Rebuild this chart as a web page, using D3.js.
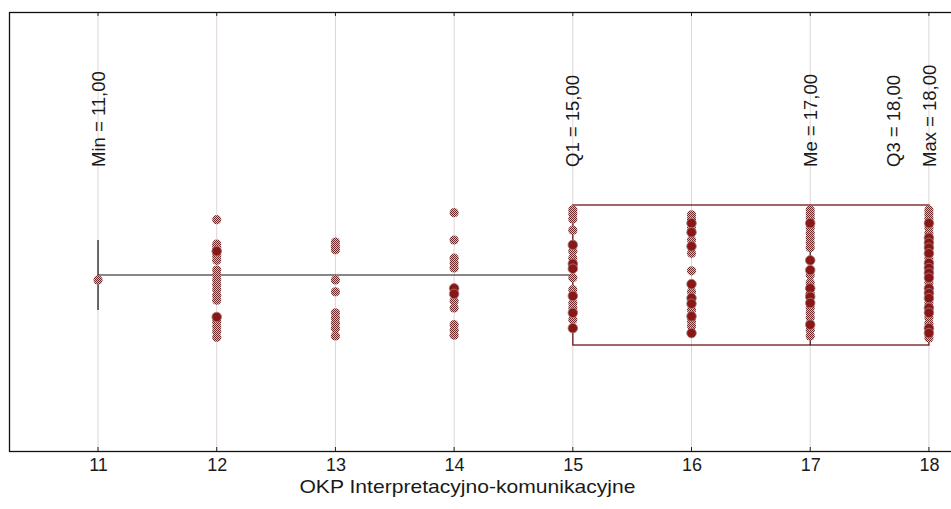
<!DOCTYPE html>
<html>
<head>
<meta charset="utf-8">
<script src="https://cdn.jsdelivr.net/npm/d3@7/dist/d3.min.js"></script>
<style>
  html, body { margin: 0; padding: 0; background: #fff; }
  svg { display: block; }
  text { font-family: "Liberation Sans", Arial, sans-serif; fill: #1a1a1a; }
</style>
</head>
<body>
<svg id="chart" width="951" height="509"></svg>
<script>
// Scores on the scale (x axis categories)
const categories = [11, 12, 13, 14, 15, 16, 17, 18];

// Vertical jitter of every observation, one list per score
const jitter = [
  [-0.07],
  [0.79, 0.44, 0.39, 0.34, 0.27, 0.21, 0.07, 0, -0.07, -0.14, -0.21, -0.29, -0.36, -0.6, -0.67, -0.74, -0.81, -0.89],
  [0.47, 0.41, 0.36, -0.07, -0.24, -0.54, -0.61, -0.69, -0.76, -0.87],
  [0.89, 0.5, 0.24, 0.17, 0.1, -0.19, -0.27, -0.37, -0.47, -0.71, -0.79, -0.86],
  [0.93, 0.87, 0.8, 0.64, 0.43, 0.34, 0.24, 0.16, 0.09, -0.04, -0.21, -0.3, -0.4, -0.47, -0.54, -0.64, -0.76],
  [0.86, 0.8, 0.74, 0.67, 0.61, 0.5, 0.41, 0.31, 0.06, -0.13, -0.24, -0.33, -0.41, -0.5, -0.59, -0.66, -0.73, -0.83],
  [0.93, 0.87, 0.81, 0.74, 0.67, 0.6, 0.53, 0.46, 0.39, 0.21, 0.07, 0, -0.11, -0.19, -0.26, -0.31, -0.4, -0.47, -0.54, -0.61, -0.71, -0.79, -0.87],
  [0.93, 0.87, 0.81, 0.74, 0.67, 0.6, 0.53, 0.46, 0.39, 0.31, 0.24, 0.17, 0.1, 0.03, -0.04, -0.11, -0.19, -0.26, -0.33, -0.4, -0.47, -0.54, -0.61, -0.69, -0.76, -0.83, -0.9]
];

// Jitter positions where several observations coincide (drawn solid)
const tied = [
  [],
  [0.34, -0.6],
  [],
  [-0.19, -0.27],
  [0.43, 0.16, 0.09, -0.3, -0.54, -0.76],
  [0.74, 0.61, 0.41, -0.13, -0.33, -0.41, -0.59, -0.83],
  [0.74, 0.21, 0.07, -0.19, -0.31, -0.4, -0.71],
  [0.74, 0.53, 0.46, 0.39, 0.31, 0.17, 0.1, 0.03, -0.04, -0.19, -0.26, -0.33, -0.47, -0.54, -0.76, -0.83]
];

// Five-number summary
const statNames = ["Min", "Q1", "Me", "Q3", "Max"];
const statValues = [11, 15, 17, 18, 18];

const axisTitle = "OKP Interpretacyjno-komunikacyjne";

const svg = d3.select("#chart");
const plotLeft = 9, plotTop = 12, plotBottom = 451;
const unit = 118.7;

const x = d3.scaleLinear().domain([10.25, 18.25]).range([plotLeft, plotLeft + 8 * unit]);
const y = d3.scaleLinear().domain([-2.514, 3.757]).range([plotBottom, plotTop]);

// Checkered fill for single markers
const defs = svg.append("defs");
const pat = defs.append("pattern")
  .attr("id", "dots").attr("width", 2).attr("height", 2)
  .attr("patternUnits", "userSpaceOnUse");
pat.append("rect").attr("width", 2).attr("height", 2).attr("fill", "#c6c2c2");
pat.append("rect").attr("x", 0).attr("y", 0).attr("width", 1).attr("height", 1).attr("fill", "#6e2a2a");
pat.append("rect").attr("x", 1).attr("y", 1).attr("width", 1).attr("height", 1).attr("fill", "#6e2a2a");

// Vertical grid lines
svg.append("g").selectAll("line").data(categories).join("line")
  .attr("x1", d => x(d)).attr("x2", d => x(d))
  .attr("y1", plotTop).attr("y2", plotBottom)
  .attr("stroke", "#ded4d4").attr("stroke-width", 1);

// Bottom axis with tick labels
const xAxis = d3.axisBottom(x).tickValues(categories).tickSize(0).tickPadding(7)
  .tickFormat(d3.format("d"));
const gx = svg.append("g").attr("transform", `translate(0,${plotBottom})`).call(xAxis);
gx.select(".domain").remove();
gx.selectAll("text").attr("font-size", 18).attr("fill", "#1a1a1a")
  .style("font-family", "'Liberation Sans', Arial, sans-serif");

// Small inward ticks on top and bottom frame
svg.append("g").selectAll("line").data(categories).join("line")
  .attr("x1", d => x(d)).attr("x2", d => x(d))
  .attr("y1", plotTop).attr("y2", plotTop + 4).attr("stroke", "#222");
svg.append("g").selectAll("line").data(categories).join("line")
  .attr("x1", d => x(d)).attr("x2", d => x(d))
  .attr("y1", plotBottom).attr("y2", plotBottom - 4).attr("stroke", "#222");

// Frame
svg.append("rect")
  .attr("x", plotLeft + 0.5).attr("y", plotTop + 0.5)
  .attr("width", x.range()[1] - plotLeft).attr("height", plotBottom - plotTop)
  .attr("fill", "none").attr("stroke", "#111").attr("stroke-width", 1.3);

// Box and whiskers
const [vMin, vQ1, vMe, vQ3, vMax] = statValues;
const boxG = svg.append("g");
boxG.append("line")
  .attr("x1", x(vMin)).attr("x2", x(vQ1)).attr("y1", y(0)).attr("y2", y(0))
  .attr("stroke", "#111").attr("stroke-width", 1.2);
boxG.append("line")
  .attr("x1", x(vMin)).attr("x2", x(vMin)).attr("y1", y(0.5)).attr("y2", y(-0.5))
  .attr("stroke", "#111").attr("stroke-width", 1.2);
if (vMax > vQ3) {
  boxG.append("line")
    .attr("x1", x(vQ3)).attr("x2", x(vMax)).attr("y1", y(0)).attr("y2", y(0))
    .attr("stroke", "#111").attr("stroke-width", 1.2);
}
boxG.append("rect")
  .attr("x", x(vQ1)).attr("y", y(1))
  .attr("width", x(vQ3) - x(vQ1)).attr("height", y(-1) - y(1))
  .attr("fill", "none").attr("stroke", "#6e1616").attr("stroke-width", 1.3);
boxG.append("line")
  .attr("x1", x(vMe)).attr("x2", x(vMe)).attr("y1", y(1)).attr("y2", y(-1))
  .attr("stroke", "#3a1010").attr("stroke-width", 1.2);

// Observations
const pts = [];
categories.forEach((c, i) => jitter[i].forEach(j => pts.push({ c, j, solid: tied[i].includes(j) })));
svg.append("g").selectAll("circle").data(pts.filter(p => !p.solid)).join("circle")
  .attr("cx", d => x(d.c)).attr("cy", d => y(d.j)).attr("r", 4.6)
  .attr("fill", "url(#dots)");
svg.append("g").selectAll("circle").data(pts.filter(p => p.solid)).join("circle")
  .attr("cx", d => x(d.c)).attr("cy", d => y(d.j)).attr("r", 4.8)
  .attr("fill", "#8a1616").attr("stroke", "#a08484").attr("stroke-width", 0.8);

// Statistic labels, rotated; a label sharing its value with the next one moves left
const labelBase = 167;
const labels = statNames.map((n, i) => {
  const clash = i < statValues.length - 1 && statValues[i + 1] === statValues[i];
  return { text: `${n} = ${statValues[i].toFixed(2).replace(".", ",")}`, px: x(statValues[i]) - (clash ? 0.3 * unit : 0) };
});
svg.append("g").selectAll("text").data(labels).join("text")
  .attr("transform", d => `translate(${d.px},${labelBase}) rotate(-90)`)
  .attr("dy", "0.36em")
  .attr("font-size", 18.5)
  .text(d => d.text);

// Axis title
svg.append("text")
  .attr("x", (x(categories[0]) + x(categories[categories.length - 1])) / 2 - 46)
  .attr("y", 493)
  .attr("text-anchor", "middle")
  .attr("font-size", 19)
  .attr("textLength", 336)
  .attr("lengthAdjust", "spacingAndGlyphs")
  .text(axisTitle);
</script>
</body>
</html>
